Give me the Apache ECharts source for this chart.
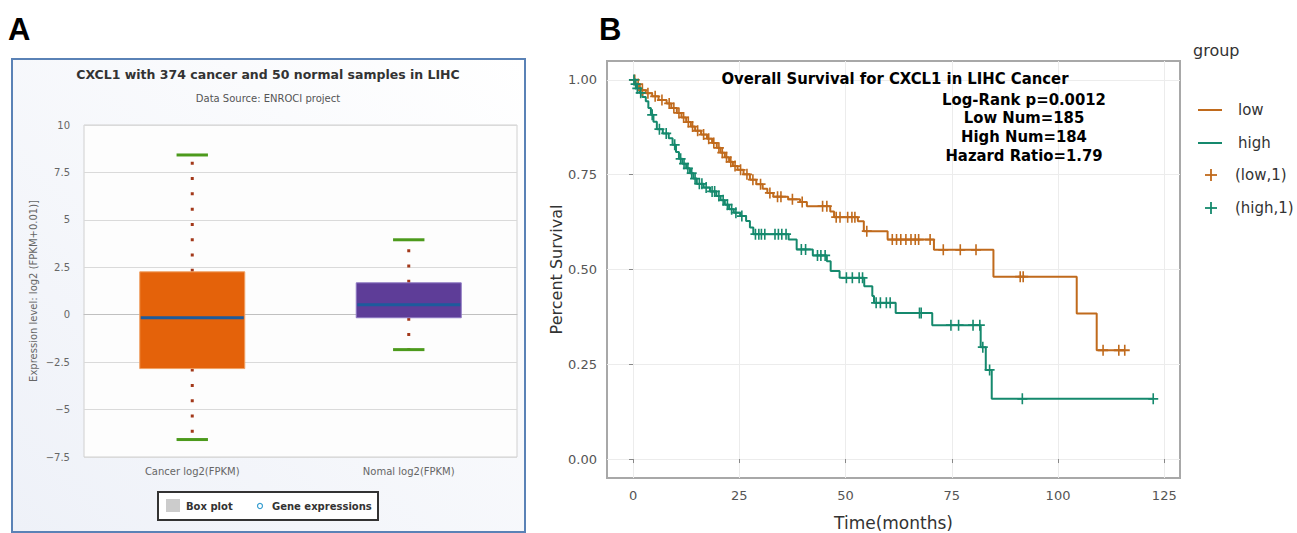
<!DOCTYPE html>
<html><head><meta charset="utf-8">
<script src="https://cdn.jsdelivr.net/npm/echarts@6/dist/echarts.min.js"></script>
<style>html,body{margin:0;padding:0;background:#fff}#c{width:1297px;height:533px}</style>
</head><body><div id="c"></div>
<script>
// ---------- Panel A data (box plot) ----------
const boxCategories = ['Cancer log2(FPKM)', 'Nomal log2(FPKM)'];
const boxLow    = [-6.58, -1.84];
const boxQ1     = [-2.84, -0.16];
const boxMedian = [-0.16,  0.53];
const boxQ3     = [ 2.26,  1.68];
const boxHigh   = [ 8.42,  3.95];
const boxColors = ['#e4620a', '#5e3d98'];

// ---------- Panel B data (Kaplan-Meier) ----------
const lowTimes = [0, 0.6, 1.6, 3.0, 4.5, 6.0, 7.9, 9.0, 10.3, 11.4, 12.5, 13.6, 14.6, 16.0, 17.4, 18.6, 19.7, 20.6, 21.6, 22.6, 23.5, 24.6, 26.0, 27.5, 29.0, 30.5, 31.6, 33.0, 36.5, 39.3, 40.9, 46.4, 47.3, 52.9, 54.3, 59.9, 70.8, 84.8, 104.4, 109.1];
const lowSurv  = [1.0, 0.989, 0.973, 0.965, 0.957, 0.947, 0.938, 0.926, 0.913, 0.901, 0.889, 0.877, 0.866, 0.856, 0.845, 0.834, 0.821, 0.808, 0.796, 0.784, 0.773, 0.763, 0.751, 0.737, 0.725, 0.713, 0.702, 0.692, 0.685, 0.678, 0.667, 0.653, 0.638, 0.627, 0.601, 0.579, 0.552, 0.481, 0.384, 0.287];
const lowEnd = 115.7;
const highTimes = [0, 0.4, 0.9, 1.5, 2.2, 3.0, 3.6, 4.2, 4.8, 5.6, 7.0, 8.4, 9.3, 10.1, 10.8, 11.6, 12.5, 13.4, 14.2, 15.0, 16.6, 18.1, 19.6, 20.6, 21.6, 22.6, 23.7, 25.2, 26.6, 27.5, 28.3, 36.6, 38.5, 42.3, 45.6, 46.5, 48.6, 54.4, 56.3, 56.7, 61.8, 70.4, 81.8, 83.0, 84.4];
const highSurv  = [1.0, 0.989, 0.978, 0.966, 0.955, 0.944, 0.926, 0.908, 0.890, 0.870, 0.859, 0.846, 0.829, 0.810, 0.792, 0.779, 0.767, 0.754, 0.740, 0.726, 0.716, 0.706, 0.694, 0.683, 0.671, 0.659, 0.650, 0.641, 0.628, 0.611, 0.593, 0.579, 0.553, 0.537, 0.522, 0.496, 0.478, 0.456, 0.430, 0.412, 0.385, 0.353, 0.295, 0.235, 0.159];
const highEnd = 122.4;
const lowCensorTimes = [0.4, 1.2, 2.2, 3.5, 5.2, 6.8, 8.5, 9.6, 10.8, 11.9, 13.0, 14.0, 15.2, 16.6, 17.8, 19.0, 20.2, 21.0, 22.0, 23.0, 24.0, 25.3, 26.8, 28.2, 30.0, 32.2, 34.0, 34.8, 37.5, 39.8, 44.6, 45.6, 47.8, 48.7, 50.5, 51.5, 52.2, 55.0, 61.0, 62.0, 63.0, 64.2, 65.4, 66.4, 67.2, 69.9, 73.0, 77.0, 80.7, 91.1, 91.8, 110.6, 114.3, 115.7];
const highCensorTimes = [0.2, 0.6, 1.0, 1.8, 4.5, 6.2, 7.8, 9.8, 11.2, 12.0, 12.9, 13.8, 14.6, 15.6, 16.2, 17.2, 18.6, 19.2, 20.2, 21.2, 22.2, 23.2, 24.2, 25.6, 28.8, 29.6, 30.2, 31.0, 33.4, 34.2, 35.0, 36.0, 39.6, 40.6, 43.4, 44.2, 45.2, 50.2, 51.6, 53.2, 54.0, 57.2, 58.2, 59.6, 60.5, 67.4, 67.8, 74.8, 76.6, 80.0, 81.6, 82.3, 83.9, 91.6, 122.4];
const timeTicks = [0, 25, 50, 75, 100, 125];
const survTicks = [0, 0.25, 0.5, 0.75, 1];
const timeRange = [-6.13, 128.7];
const survRange = [-0.05, 1.05];
const annotationLines = ['Log-Rank p=0.0012', 'Low Num=185', 'High Num=184', 'Hazard Ratio=1.79'];

const LOWC = '#c06a1c', HIGHC = '#15896d';

function survAt(times, surv, t) {
  let s = surv[0];
  for (let i = 0; i < times.length; i++) { if (times[i] <= t) s = surv[i]; }
  return s;
}
const lowLine = lowTimes.map((t, i) => [t, lowSurv[i]]).concat([[lowEnd, lowSurv[lowSurv.length - 1]]]);
const highLine = highTimes.map((t, i) => [t, highSurv[i]]).concat([[highEnd, highSurv[highSurv.length - 1]]]);
const lowCensor = lowCensorTimes.map(t => [t, survAt(lowTimes, lowSurv, t)]);
const highCensor = highCensorTimes.map(t => [t, survAt(highTimes, highSurv, t)]);
const boxData = boxCategories.map((c, i) => [i, boxLow[i], boxQ1[i], boxMedian[i], boxQ3[i], boxHigh[i]]);

const PLUS = 'path://M4.2,0H5.8V4.2H10V5.8H5.8V10H4.2V5.8H0V4.2H4.2Z';
const FA = 'DejaVu Sans, Verdana, sans-serif';
const FB = 'bold 16.5px "DejaVu Sans Condensed", "DejaVu Sans", sans-serif';

const chart = echarts.init(document.getElementById('c'), null, { renderer: 'svg' });

const legendB = [];
legendB.push({ type: 'text', style: { x: 1193, y: 50, text: 'group', font: '16px ' + FA, fill: '#333', textAlign: 'left', textVerticalAlign: 'middle' } });
[['low', LOWC, 110], ['high', HIGHC, 143]].forEach(([n, c, y]) => {
  legendB.push({ type: 'line', shape: { x1: 1198, y1: y, x2: 1222, y2: y }, style: { stroke: c, lineWidth: 2 } });
  legendB.push({ type: 'text', style: { x: 1238, y: y, text: n, font: '15px ' + FA, fill: '#333', textAlign: 'left', textVerticalAlign: 'middle' } });
});
[['(low,1)', LOWC, 175], ['(high,1)', HIGHC, 208]].forEach(([n, c, y]) => {
  legendB.push({ type: 'line', shape: { x1: 1205, y1: y, x2: 1217, y2: y }, style: { stroke: c, lineWidth: 1.8 } });
  legendB.push({ type: 'line', shape: { x1: 1211, y1: y - 6, x2: 1211, y2: y + 6 }, style: { stroke: c, lineWidth: 1.8 } });
  legendB.push({ type: 'text', style: { x: 1235, y: y, text: n, font: '15px ' + FA, fill: '#333', textAlign: 'left', textVerticalAlign: 'middle' } });
});

const annB = [{ type: 'text', z: 100, style: { x: 895, y: 78, text: 'Overall Survival for CXCL1 in LIHC Cancer', font: FB, fill: '#000', textAlign: 'center', textVerticalAlign: 'middle' } }];
annotationLines.forEach((s, i) => annB.push({ type: 'text', z: 100, style: { x: 1024, y: 99 + i * 18.7, text: s, font: FB, fill: '#000', textAlign: 'center', textVerticalAlign: 'middle' } }));

const option = {
  animation: false,
  backgroundColor: '#ffffff',
  graphic: [
    { type: 'rect', z: -10, shape: { x: 12, y: 59, width: 513, height: 473 },
      style: { fill: new echarts.graphic.LinearGradient(1, 0, 0, 1, [{ offset: 0, color: '#ffffff' }, { offset: 1, color: '#eef1f8' }]), stroke: '#5a82b6', lineWidth: 2 } },
    { type: 'text', style: { x: 8, y: 29, text: 'A', font: 'bold 31px "Liberation Sans", Arial, sans-serif', fill: '#000', textVerticalAlign: 'middle' } },
    { type: 'text', style: { x: 599, y: 29, text: 'B', font: 'bold 31px "Liberation Sans", Arial, sans-serif', fill: '#000', textVerticalAlign: 'middle' } },
    { type: 'text', style: { x: 268, y: 74, text: 'CXCL1 with 374 cancer and 50 normal samples in LIHC', font: 'bold 12.5px ' + FA, fill: '#333', textAlign: 'center', textVerticalAlign: 'middle' } },
    { type: 'text', style: { x: 268, y: 98, text: 'Data Source: ENROCI project', font: '10px ' + FA, fill: '#555', textAlign: 'center', textVerticalAlign: 'middle' } },
    { type: 'rect', shape: { x: 158, y: 492, width: 220, height: 28 }, style: { fill: '#ffffff', stroke: '#333', lineWidth: 2 } },
    { type: 'rect', shape: { x: 166, y: 499, width: 14, height: 13 }, style: { fill: '#cccccc' } },
    { type: 'text', style: { x: 186, y: 506, text: 'Box plot', font: 'bold 10px ' + FA, fill: '#333', textVerticalAlign: 'middle' } },
    { type: 'circle', shape: { cx: 260, cy: 506, r: 2.5 }, style: { fill: 'none', stroke: '#3a9fd0', lineWidth: 1.2 } },
    { type: 'text', style: { x: 272, y: 506, text: 'Gene expressions', font: 'bold 10px ' + FA, fill: '#333', textVerticalAlign: 'middle' } }
  ].concat(annB).concat(legendB),
  grid: [
    { left: 84, top: 125, width: 433, height: 332, outerBoundsMode: 'none', containLabel: false, show: true, backgroundColor: '#fdfdfd', borderColor: '#d0d0d0', borderWidth: 1 },
    { left: 607, top: 61, width: 573, height: 417, outerBoundsMode: 'none', containLabel: false, show: true, backgroundColor: '#ffffff', borderColor: '#a8a8a8', borderWidth: 2 }
  ],
  xAxis: [
    { gridIndex: 0, type: 'category', data: boxCategories, boundaryGap: true,
      axisLine: { lineStyle: { color: '#c0c0c0' } },
      axisTick: { length: 8, lineStyle: { color: '#c0c0c0' } },
      axisLabel: { fontSize: 10, color: '#666', margin: 9, fontFamily: FA } },
    { gridIndex: 1, type: 'value', min: timeRange[0], max: timeRange[1],
      axisLine: { show: false },
      axisTick: { show: true, length: 4, customValues: timeTicks, lineStyle: { color: '#888' } },
      axisLabel: { customValues: timeTicks, fontSize: 13, color: '#555', margin: 11, fontFamily: FA },
      splitLine: { show: true, lineStyle: { color: '#ececec' } },
      name: 'Time(months)', nameLocation: 'middle', nameGap: 36,
      nameTextStyle: { fontSize: 17, color: '#333', fontFamily: FA } }
  ],
  yAxis: [
    { gridIndex: 0, type: 'value', min: -7.5, max: 10, interval: 2.5,
      axisLine: { show: false }, axisTick: { show: false },
      axisLabel: { fontSize: 10, color: '#666', margin: 14, fontFamily: FA, formatter: v => String(v).replace('-', '\u2212') },
      splitLine: { lineStyle: { color: '#dadada' } },
      name: 'Expression level: log2 (FPKM+0.01)]', nameLocation: 'middle', nameGap: 46,
      nameTextStyle: { fontSize: 10, color: '#666', fontFamily: FA } },
    { gridIndex: 1, type: 'value', min: survRange[0], max: survRange[1],
      axisLine: { show: false },
      axisTick: { show: true, length: 4, customValues: survTicks, lineStyle: { color: '#888' } },
      axisLabel: { customValues: survTicks, fontSize: 13, color: '#555', margin: 10, fontFamily: FA, formatter: v => v.toFixed(2) },
      splitLine: { show: true, lineStyle: { color: '#ececec' } },
      name: 'Percent Survival', nameLocation: 'middle', nameGap: 43,
      nameTextStyle: { fontSize: 16, color: '#333', fontFamily: FA } }
  ],
  series: [
    { type: 'custom', name: 'Box plot', xAxisIndex: 0, yAxisIndex: 0, data: boxData,
      encode: { x: 0, y: [1, 2, 3, 4, 5] },
      renderItem: function (params, api) {
        const i = api.value(0);
        const bw = api.size([1, 0])[0];
        const cx = api.coord([i, 0])[0];
        const yLow = api.coord([i, api.value(1)])[1];
        const yQ1 = api.coord([i, api.value(2)])[1];
        const yMed = api.coord([i, api.value(3)])[1];
        const yQ3 = api.coord([i, api.value(4)])[1];
        const yHigh = api.coord([i, api.value(5)])[1];
        const boxW = bw * 0.485, capW = bw * 0.145;
        const edge = i === 0 ? '#f0a062' : '#8d78c2';
        return { type: 'group', children: [
          { type: 'line', shape: { x1: cx, y1: yQ3, x2: cx, y2: yHigh }, style: { stroke: '#a2381a', lineWidth: 3, lineDash: [3, 12.3] } },
          { type: 'line', shape: { x1: cx, y1: yQ1, x2: cx, y2: yLow }, style: { stroke: '#a2381a', lineWidth: 3, lineDash: [3, 12.3] } },
          { type: 'rect', shape: { x: cx - boxW / 2, y: yQ3, width: boxW, height: yQ1 - yQ3 }, style: { fill: boxColors[i], stroke: edge, lineWidth: 1 } },
          { type: 'line', shape: { x1: cx - boxW / 2 + 1, y1: yMed, x2: cx + boxW / 2 - 1, y2: yMed }, style: { stroke: '#1d5b9c', lineWidth: 3 } },
          { type: 'line', shape: { x1: cx - capW / 2, y1: yHigh, x2: cx + capW / 2, y2: yHigh }, style: { stroke: '#4c9a1c', lineWidth: 3 } },
          { type: 'line', shape: { x1: cx - capW / 2, y1: yLow, x2: cx + capW / 2, y2: yLow }, style: { stroke: '#4c9a1c', lineWidth: 3 } }
        ] };
      } },
    { type: 'line', name: 'low', xAxisIndex: 1, yAxisIndex: 1, data: lowLine, step: 'end', symbol: 'none', lineStyle: { color: LOWC, width: 2 }, itemStyle: { color: LOWC }, z: 3 },
    { type: 'line', name: 'high', xAxisIndex: 1, yAxisIndex: 1, data: highLine, step: 'end', symbol: 'none', lineStyle: { color: HIGHC, width: 2 }, itemStyle: { color: HIGHC }, z: 3 },
    { type: 'scatter', name: '(low,1)', xAxisIndex: 1, yAxisIndex: 1, data: lowCensor, symbol: PLUS, symbolSize: [10, 11], itemStyle: { color: LOWC, opacity: 1 }, z: 4 },
    { type: 'scatter', name: '(high,1)', xAxisIndex: 1, yAxisIndex: 1, data: highCensor, symbol: PLUS, symbolSize: [10, 11], itemStyle: { color: HIGHC, opacity: 1 }, z: 4 }
  ]
};
chart.setOption(option);
</script>
</body></html>
